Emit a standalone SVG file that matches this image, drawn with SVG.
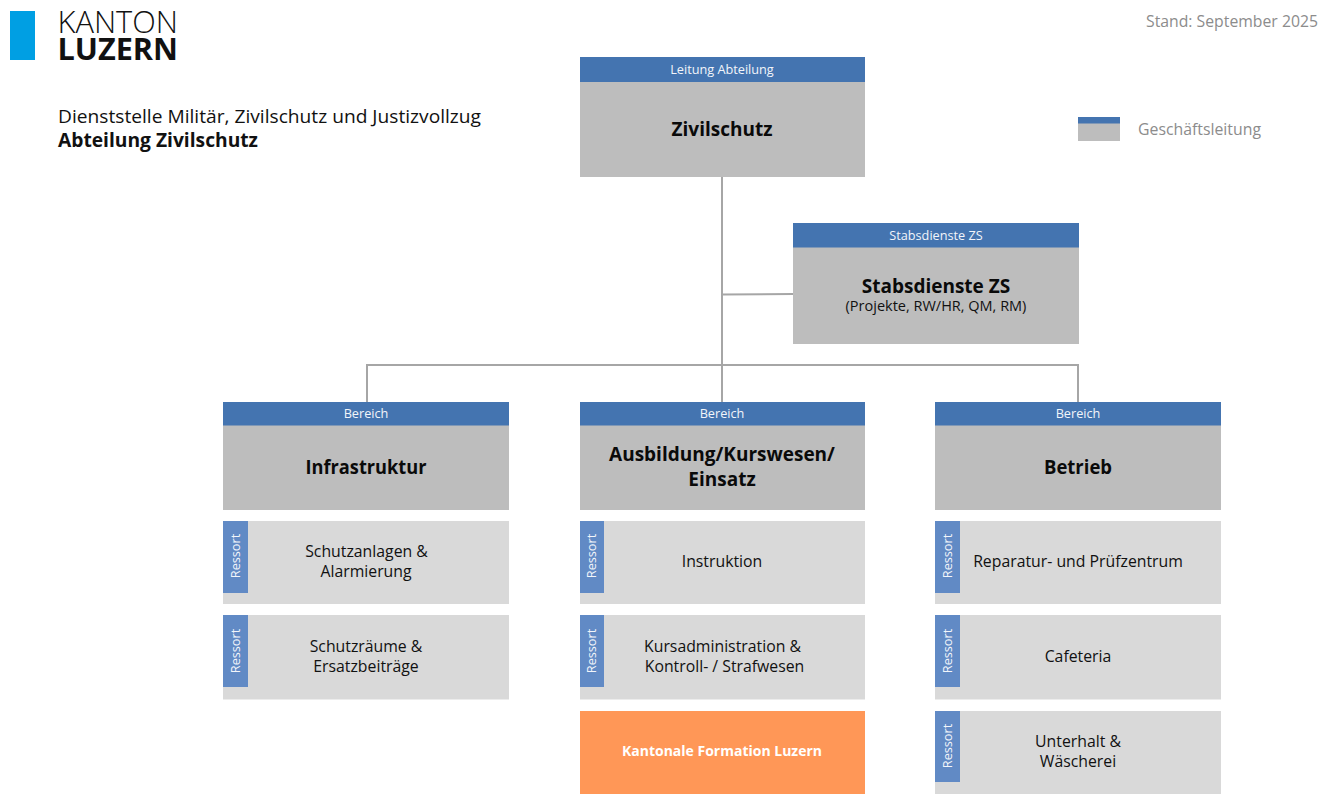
<svg xmlns="http://www.w3.org/2000/svg" width="1332" height="811" viewBox="0 0 1332 811">
<style>
text{font-family:"Open Sans","Noto Sans","Liberation Sans",sans-serif;fill:#111}
.hd{fill:#4474b0}.main{fill:#bdbdbd}.sub{fill:#d9d9d9}.tab{fill:#618ac5}
.ht{font-size:12.7px;fill:#f2f5fa;text-anchor:middle}
.tt{font-size:19px;font-weight:700;text-anchor:middle;fill:#0a0a0a}
.st{font-size:15.8px;text-anchor:middle}
.rt{font-size:12.7px;fill:#f2f5fa;text-anchor:middle}
.con{fill:none;stroke:#a6a6a6;stroke-width:2}
</style>
<rect width="1332" height="811" fill="#fff"/>
<g id="logo">
<rect x="10" y="11" width="25" height="49" fill="#009fe3"/>
<text x="57.500" y="33" font-size="30.500" font-weight="300" textLength="120.500" lengthAdjust="spacingAndGlyphs">KANTON</text>
<text x="57.500" y="60" font-size="30.500" font-weight="700" textLength="120.500" lengthAdjust="spacingAndGlyphs">LUZERN</text>
</g>
<g id="title">
<text x="58" y="123" font-size="19" textLength="423" lengthAdjust="spacingAndGlyphs">Dienststelle Militär, Zivilschutz und Justizvollzug</text>
<text x="58" y="147" font-size="19" font-weight="700" textLength="200" lengthAdjust="spacingAndGlyphs">Abteilung Zivilschutz</text>
</g>
<text id="stand" x="1318" y="27" font-size="15.500" text-anchor="end" style="fill:#8c8c8c" textLength="172" lengthAdjust="spacingAndGlyphs">Stand: September 2025</text>
<g id="legend">
<rect x="1078" y="117" width="42" height="24" class="main"/>
<rect x="1078" y="117" width="42" height="6.500" class="hd"/>
<text x="1138" y="135" font-size="16" style="fill:#8c8c8c" textLength="123" lengthAdjust="spacingAndGlyphs">Geschäftsleitung</text>
</g>
<g id="connectors">
<path class="con" d="M722 177V402M722 294.500L793 294M367 402V365H1078V402"/>
</g>
<g id="zivilschutz">
<rect x="580" y="57" width="285" height="120" class="main"/><rect x="580" y="57" width="285" height="25" class="hd"/>
<text x="722" y="74" class="ht">Leitung Abteilung</text>
<text x="722" y="135.500" class="tt">Zivilschutz</text>
</g>
<g id="stabsdienste">
<rect x="793" y="223" width="286" height="121" class="main"/><rect x="793" y="223" width="286" height="24.500" class="hd"/>
<text x="936" y="240" class="ht">Stabsdienste ZS</text>
<text x="936" y="292.500" class="tt">Stabsdienste ZS</text>
<text x="936" y="311" font-size="14.500" text-anchor="middle">(Projekte, RW/HR, QM, RM)</text>
</g>
<g id="infrastruktur">
<rect x="223" y="402" width="286" height="108" class="main"/><rect x="223" y="402" width="286" height="23.500" class="hd"/>
<text x="366" y="417.500" class="ht">Bereich</text>
<text x="366" y="473.500" class="tt" textLength="121" lengthAdjust="spacingAndGlyphs">Infrastruktur</text>
</g>
<g id="ausbildung">
<rect x="580" y="402" width="285" height="108" class="main"/><rect x="580" y="402" width="285" height="23.500" class="hd"/>
<text x="722" y="417.500" class="ht">Bereich</text>
<text x="722" y="460.500" class="tt">Ausbildung/Kurswesen/</text>
<text x="722" y="485.500" class="tt">Einsatz</text>
</g>
<g id="betrieb">
<rect x="935" y="402" width="286" height="108" class="main"/><rect x="935" y="402" width="286" height="23.500" class="hd"/>
<text x="1078" y="417.500" class="ht">Bereich</text>
<text x="1078" y="473.500" class="tt" textLength="68" lengthAdjust="spacingAndGlyphs">Betrieb</text>
</g>
<g id="schutzanlagen">
<rect x="223" y="521" width="286" height="83" class="sub"/><rect x="223" y="521" width="25" height="72" class="tab"/>
<text transform="translate(239.500 556) rotate(-90)" class="rt">Ressort</text>
<text x="366.500" y="557" class="st">Schutzanlagen &amp;</text><text x="366" y="577" class="st">Alarmierung</text>
</g>
<g id="schutzraeume">
<rect x="223" y="615" width="286" height="84.500" class="sub"/><rect x="223" y="615" width="25" height="72" class="tab"/>
<text transform="translate(239.500 651) rotate(-90)" class="rt">Ressort</text>
<text x="366" y="652" class="st">Schutzräume &amp;</text><text x="366" y="672" class="st">Ersatzbeiträge</text>
</g>
<g id="instruktion">
<rect x="580" y="521" width="285" height="83" class="sub"/><rect x="580" y="521" width="24" height="72" class="tab"/>
<text transform="translate(595.500 556) rotate(-90)" class="rt">Ressort</text>
<text x="722" y="567" class="st">Instruktion</text>
</g>
<g id="kursadministration">
<rect x="580" y="615" width="285" height="84.500" class="sub"/><rect x="580" y="615" width="24" height="72" class="tab"/>
<text transform="translate(595.500 651) rotate(-90)" class="rt">Ressort</text>
<text x="722.500" y="652" class="st">Kursadministration &amp;</text><text x="724.500" y="672" class="st">Kontroll- / Strafwesen</text>
</g>
<g id="formation">
<rect x="580" y="711" width="285" height="83" fill="#ff9757"/>
<text x="722" y="756" font-size="14" font-weight="700" text-anchor="middle" style="fill:#fff">Kantonale Formation Luzern</text>
</g>
<g id="reparatur">
<rect x="935" y="521" width="286" height="83" class="sub"/><rect x="935" y="521" width="25" height="72" class="tab"/>
<text transform="translate(951.500 556) rotate(-90)" class="rt">Ressort</text>
<text x="1078" y="567" class="st">Reparatur- und Prüfzentrum</text>
</g>
<g id="cafeteria">
<rect x="935" y="615" width="286" height="84.500" class="sub"/><rect x="935" y="615" width="25" height="72" class="tab"/>
<text transform="translate(951.500 651) rotate(-90)" class="rt">Ressort</text>
<text x="1078" y="662" class="st">Cafeteria</text>
</g>
<g id="unterhalt">
<rect x="935" y="711" width="286" height="83" class="sub"/><rect x="935" y="711" width="25" height="71" class="tab"/>
<text transform="translate(951.500 746) rotate(-90)" class="rt">Ressort</text>
<text x="1078" y="746.500" class="st">Unterhalt &amp;</text><text x="1078" y="766.500" class="st">Wäscherei</text>
</g>
</svg>
